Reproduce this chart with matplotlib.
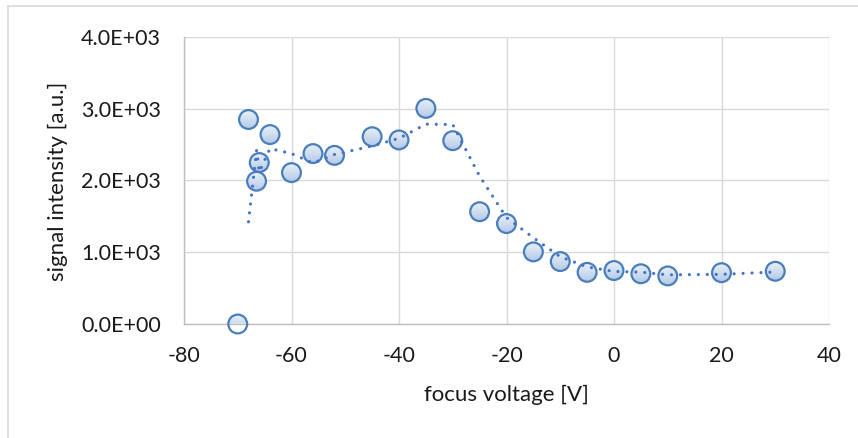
import numpy as np
import pandas as pd
import matplotlib
matplotlib.use("Agg")
import matplotlib.pyplot as plt
from matplotlib.patches import Ellipse
from matplotlib.lines import Line2D
from matplotlib.colors import LinearSegmentedColormap
from matplotlib.ticker import FuncFormatter

plt.rcParams['font.family'] = ['Lato', 'DejaVu Sans']

# measured signal vs. focus voltage
voltage = [-70, -68, -66.5, -66, -64, -60, -56, -52, -45, -40, -35, -30,
           -25, -20, -15, -10, -5, 0, 5, 10, 20, 30]
intensity = [0, 2850, 1990, 2250, 2640, 2110, 2375, 2350, 2610, 2565, 3005, 2555,
             1565, 1400, 1005, 870, 720, 745, 700, 670, 715, 735]

x_ticks = [-80, -60, -40, -20, 0, 20, 40]
y_ticks = [0, 1000, 2000, 3000, 4000]
x_title = "focus voltage [V]"
y_title = "signal intensity [a.u.]"

# two-period moving average trendline
trend = pd.Series(intensity).rolling(2).mean()

W, H = 858, 438
fig = plt.figure(figsize=(W / 100, H / 100), dpi=100)
ax_l, ax_r, ax_t, ax_b = 184, 829, 37, 324
ax = fig.add_axes([ax_l / W, 1 - ax_b / H, (ax_r - ax_l) / W, (ax_b - ax_t) / H])
ax.set_autoscale_on(False)
ax.set_xlim(x_ticks[0], x_ticks[-1])
ax.set_ylim(y_ticks[0], y_ticks[-1])

grid_c = '#d9d9d9'
axis_c = '#bfbfbf'
text_c = '#1a1a1a'
edge_c = '#4a7ebb'
line_c = '#4472c4'

ax.set_xticks(x_ticks)
ax.set_yticks(y_ticks)
ax.yaxis.set_major_formatter(FuncFormatter(lambda v, p: f"{v:.1E}"))
ax.xaxis.set_major_formatter(FuncFormatter(lambda v, p: f"{v:g}"))
ax.grid(True, color=grid_c, lw=1.0, zorder=0)
ax.set_axisbelow(True)
for s in ('top', 'right'):
    ax.spines[s].set_visible(False)
for s in ('left', 'bottom'):
    ax.spines[s].set_color(axis_c)
    ax.spines[s].set_linewidth(1.0)
    ax.spines[s].set_zorder(1)
ax.tick_params(axis='both', length=0, labelsize=15.5, labelcolor=text_c)
ax.tick_params(axis='x', pad=16)
ax.tick_params(axis='y', pad=16.5)

# gradient-filled circular markers
px_x = (ax_r - ax_l) / (x_ticks[-1] - x_ticks[0])
px_y = (ax_b - ax_t) / (y_ticks[-1] - y_ticks[0])
r_px = 9.4
grad_cmap = LinearSegmentedColormap.from_list('mk', ['#b4cae7', '#e9f0f9'])
grad = np.linspace(0, 1, 64).reshape(-1, 1)
for xv, yv in zip(voltage, intensity):
    w = 2 * r_px / px_x
    h = 2 * r_px / px_y
    circ = Ellipse((xv, yv), w, h, facecolor='none', edgecolor=edge_c,
                   lw=1.6, zorder=4, clip_on=False)
    ax.add_patch(circ)
    im = ax.imshow(grad, extent=(xv - w / 2, xv + w / 2, yv - h / 2, yv + h / 2),
                   origin='lower', cmap=grad_cmap, aspect='auto',
                   interpolation='bilinear', zorder=3)
    im.set_clip_box(None)
    im.set_clip_path(circ)

ax.set_xlim(x_ticks[0], x_ticks[-1])
ax.set_ylim(y_ticks[0], y_ticks[-1])

ax.plot(voltage, trend, color=line_c, lw=2.3, linestyle=(0, (0.001, 2.8)),
        dash_capstyle='round', zorder=5)

fig.text(58 / W, 1 - 181 / H, y_title, rotation=90, ha='center', va='center',
         fontsize=16, color=text_c)
fig.text(506 / W, 1 - 395 / H, x_title, ha='center', va='center',
         fontsize=16, color=text_c)

# chart area frame
fig.add_artist(Line2D([7.5 / W, 1], [1 - 6 / H, 1 - 6 / H], transform=fig.transFigure,
                      color=grid_c, lw=1.2))
fig.add_artist(Line2D([7.5 / W, 7.5 / W], [0, 1 - 6 / H], transform=fig.transFigure,
                      color=grid_c, lw=1.2))

fig.savefig('out.png', dpi=100, facecolor='white')
